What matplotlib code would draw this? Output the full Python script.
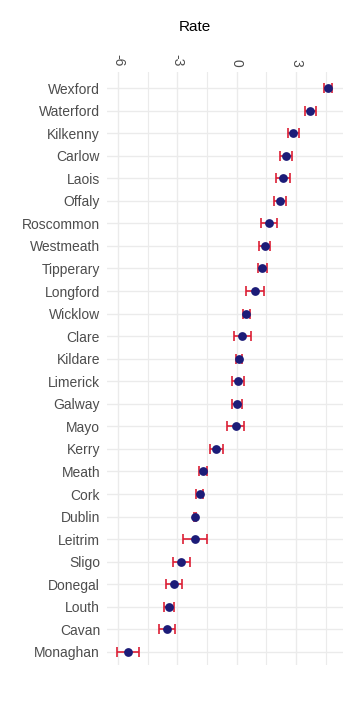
import numpy as np
import matplotlib
matplotlib.use('Agg')
import matplotlib.pyplot as plt

# counties from top to bottom
counties = ['Wexford', 'Waterford', 'Kilkenny', 'Carlow', 'Laois', 'Offaly',
            'Roscommon', 'Westmeath', 'Tipperary', 'Longford', 'Wicklow', 'Clare',
            'Kildare', 'Limerick', 'Galway', 'Mayo', 'Kerry', 'Meath', 'Cork',
            'Dublin', 'Leitrim', 'Sligo', 'Donegal', 'Louth', 'Cavan', 'Monaghan']
rate = [4.61, 3.72, 2.85, 2.47, 2.34, 2.17, 1.63, 1.41, 1.30, 0.91, 0.49, 0.29,
        0.12, 0.07, 0.02, -0.05, -1.03, -1.70, -1.87, -2.12, -2.12, -2.79,
        -3.18, -3.42, -3.52, -5.49]
err = [0.20, 0.27, 0.28, 0.30, 0.33, 0.30, 0.42, 0.27, 0.21, 0.45, 0.18, 0.44,
       0.15, 0.30, 0.24, 0.42, 0.34, 0.21, 0.17, 0.05, 0.60, 0.45, 0.40, 0.27,
       0.39, 0.55]

plt.rcParams['font.family'] = ['Liberation Sans', 'DejaVu Sans']
plt.rcParams['axes.unicode_minus'] = False

fig = plt.figure(figsize=(3.61, 7.04), dpi=100)
ax = fig.add_axes([107 / 361, 1 - 665 / 704, 236 / 361, 593 / 704])

y = np.arange(len(counties))[::-1]
ax.errorbar(rate, y, xerr=err, fmt='none', ecolor='#dc1f35', elinewidth=1.2,
            capsize=3.5, capthick=1.2, zorder=3)
ax.scatter(rate, y, s=40, color='#1c1c78', zorder=4, linewidths=0)

ax.set_xlim(-6.55, 5.37)
ax.set_ylim(-0.58, len(counties) - 1 + 0.71)
ax.set_xticks([-6, -3, 0, 3])
ax.set_xticks([-4.5, -1.5, 1.5, 4.5], minor=True)
ax.set_yticks(y)
ax.set_yticklabels(counties)

ax.xaxis.tick_top()
ax.tick_params(axis='x', which='both', length=0, pad=4, labelsize=10,
               labelcolor='#4d4d4d', labelrotation=-90)
ax.tick_params(axis='y', length=0, pad=5, labelsize=10, labelcolor='#4d4d4d')

ax.grid(True, which='major', color='#ebebeb', linewidth=1.0)
ax.grid(True, which='minor', axis='x', color='#ebebeb', linewidth=0.8)
ax.set_axisbelow(True)
for s in ax.spines.values():
    s.set_visible(False)

fig.text(195 / 361, 1 - 27 / 704, 'Rate', ha='center', va='center', fontsize=11,
         color='black')

fig.savefig('out.png', dpi=100, facecolor='white')
